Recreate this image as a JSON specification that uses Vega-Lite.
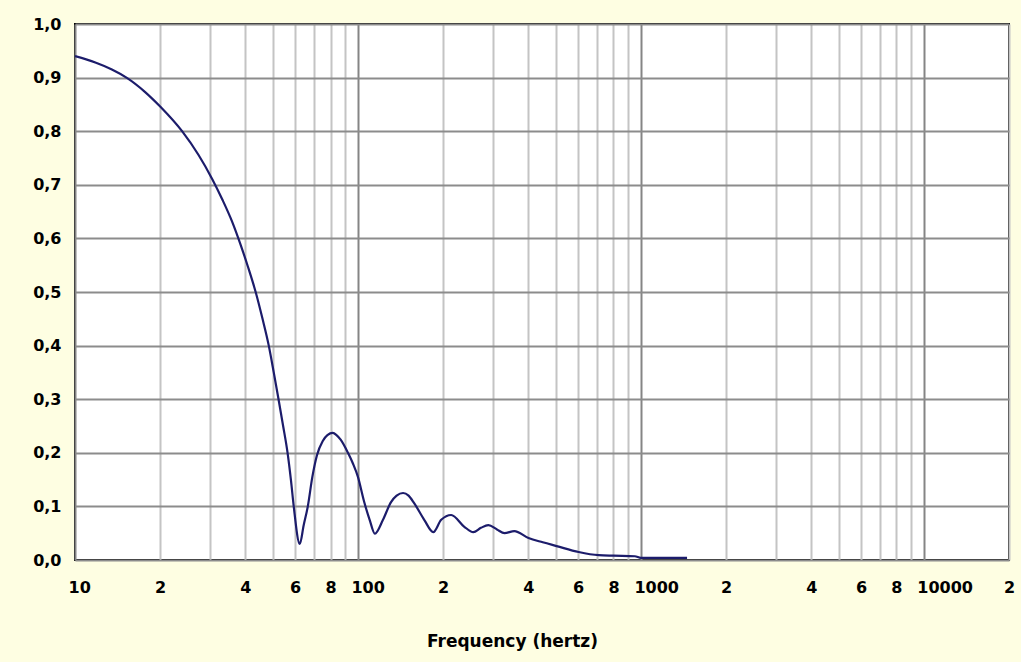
{
  "$schema": "https://vega.github.io/schema/vega-lite/v6.json",
  "width": 934,
  "height": 536,
  "autosize": {"type": "none"},
  "padding": {"left": 75, "top": 24, "right": 12, "bottom": 102},
  "background": "#FEFEE2",
  "config": {
    "view": {"fill": "white", "stroke": "black", "strokeWidth": 2}
  },
  "data": {
    "values": [
      {"freq": 10, "amp": 0.940},
      {"freq": 11.8, "amp": 0.928},
      {"freq": 13.5, "amp": 0.915},
      {"freq": 15.3, "amp": 0.899},
      {"freq": 17.7, "amp": 0.873},
      {"freq": 20, "amp": 0.846},
      {"freq": 23.9, "amp": 0.800},
      {"freq": 27.3, "amp": 0.756},
      {"freq": 30.6, "amp": 0.710},
      {"freq": 33.2, "amp": 0.672},
      {"freq": 36, "amp": 0.630},
      {"freq": 38.5, "amp": 0.588},
      {"freq": 40.8, "amp": 0.548},
      {"freq": 43.5, "amp": 0.500},
      {"freq": 46, "amp": 0.450},
      {"freq": 48.4, "amp": 0.400},
      {"freq": 50.4, "amp": 0.350},
      {"freq": 52.4, "amp": 0.300},
      {"freq": 54.4, "amp": 0.250},
      {"freq": 56.4, "amp": 0.200},
      {"freq": 58, "amp": 0.148},
      {"freq": 59.3, "amp": 0.100},
      {"freq": 62.3, "amp": 0.030},
      {"freq": 64.3, "amp": 0.065},
      {"freq": 66.5, "amp": 0.100},
      {"freq": 69, "amp": 0.155},
      {"freq": 71.6, "amp": 0.195},
      {"freq": 75.1, "amp": 0.222},
      {"freq": 78, "amp": 0.233},
      {"freq": 81.5, "amp": 0.237},
      {"freq": 84, "amp": 0.233},
      {"freq": 87, "amp": 0.224},
      {"freq": 92.2, "amp": 0.200},
      {"freq": 96, "amp": 0.180},
      {"freq": 100, "amp": 0.155},
      {"freq": 105, "amp": 0.110},
      {"freq": 110, "amp": 0.075},
      {"freq": 114.8, "amp": 0.049},
      {"freq": 122.6, "amp": 0.075},
      {"freq": 130.9, "amp": 0.108},
      {"freq": 137, "amp": 0.120},
      {"freq": 144.4, "amp": 0.125},
      {"freq": 151, "amp": 0.120},
      {"freq": 158, "amp": 0.106},
      {"freq": 171.5, "amp": 0.075},
      {"freq": 184.6, "amp": 0.052},
      {"freq": 196.9, "amp": 0.075},
      {"freq": 213.6, "amp": 0.084},
      {"freq": 237.7, "amp": 0.062},
      {"freq": 255.7, "amp": 0.052},
      {"freq": 272, "amp": 0.060},
      {"freq": 289, "amp": 0.065},
      {"freq": 310, "amp": 0.057},
      {"freq": 329.5, "amp": 0.050},
      {"freq": 357, "amp": 0.054},
      {"freq": 400.6, "amp": 0.041},
      {"freq": 450, "amp": 0.033},
      {"freq": 503.8, "amp": 0.026},
      {"freq": 602.6, "amp": 0.015},
      {"freq": 709.6, "amp": 0.009},
      {"freq": 800, "amp": 0.008},
      {"freq": 952, "amp": 0.007},
      {"freq": 1000, "amp": 0.004},
      {"freq": 1456, "amp": 0.004}
    ]
  },
  "mark": {"type": "line", "color": "#1C1C6B", "strokeWidth": 2.2, "interpolate": "monotone", "clip": true},
  "encoding": {
    "x": {
      "field": "freq",
      "type": "quantitative",
      "scale": {"type": "log", "domain": [10, 20000], "nice": false},
      "axis": {
        "title": "Frequency (hertz)",
        "titleFont": "DejaVu Sans",
        "titleFontWeight": "bold",
        "titleFontSize": 17,
        "titleColor": "black",
        "titleX": 437,
        "titleY": 81,
        "titleBaseline": "middle",
        "titleAnchor": "middle",
        "values": [10,20,30,40,50,60,70,80,90,100,200,300,400,500,600,700,800,900,1000,2000,3000,4000,5000,6000,7000,8000,9000,10000,20000],
        "labelExpr": "round(datum.value / pow(10, floor(log(datum.value)/LN10 + 0.000001))) == 1 ? format(datum.value, 'd') : (round(datum.value / pow(10, floor(log(datum.value)/LN10 + 0.000001))) % 2 == 0 ? toString(round(datum.value / pow(10, floor(log(datum.value)/LN10 + 0.000001)))) : '')",
        "labelFont": "DejaVu Sans",
        "labelFontWeight": "bold",
        "labelFontSize": 16,
        "labelColor": "black",
        "labelPadding": 19,
        "labelFlush": false,
        "labelOverlap": false,
        "labelAlign": {
          "condition": {"test": "round(datum.value / pow(10, floor(log(datum.value)/LN10 + 0.000001))) == 1", "value": "left"},
          "value": "center"
        },
        "labelOffset": {
          "condition": {"test": "round(datum.value / pow(10, floor(log(datum.value)/LN10 + 0.000001))) == 1", "value": -7},
          "value": 0
        },
        "ticks": false,
        "domain": false,
        "grid": true,
        "gridWidth": 2,
        "gridOpacity": 1,
        "gridColor": {
          "condition": {"test": "round(datum.value / pow(10, floor(log(datum.value)/LN10 + 0.000001))) == 1", "value": "#858585"},
          "value": "#C4C4C4"
        }
      }
    },
    "y": {
      "field": "amp",
      "type": "quantitative",
      "scale": {"domain": [0, 1], "nice": false},
      "axis": {
        "title": null,
        "values": [0,0.1,0.2,0.3,0.4,0.5,0.6,0.7,0.8,0.9,1.0],
        "labelExpr": "replace(format(datum.value, '.1f'), '.', ',')",
        "labelFont": "DejaVu Sans",
        "labelFontWeight": "bold",
        "labelFontSize": 16,
        "labelColor": "black",
        "labelPadding": 14,
        "ticks": false,
        "domain": false,
        "grid": true,
        "gridColor": "#8C8C8C",
        "gridWidth": 2,
        "gridOpacity": 1
      }
    }
  }
}
